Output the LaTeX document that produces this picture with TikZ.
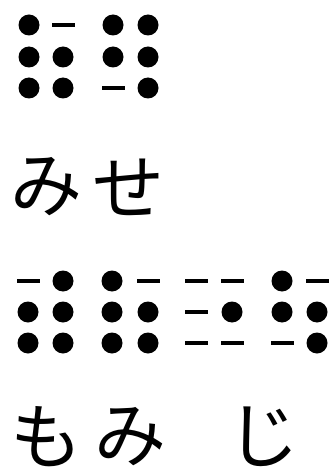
\documentclass[tikz,border=0pt]{standalone}
\usepackage{fontspec}
\newfontfamily\cjk{Noto Sans CJK JP}
\begin{document}
\begin{tikzpicture}[x=1pt,y=-1pt,
  bdot/.style={circle,fill=black,minimum size=21pt,inner sep=0pt},
  bdash/.style={rectangle,fill=black,minimum width=23pt,minimum height=4pt,inner sep=0pt},
  kana/.style={inner sep=0pt,font=\cjk\fontsize{72}{72}\selectfont}]
\useasboundingbox (0,0) rectangle (331,473);
% top braille: みせ
\foreach \x/\y/\t [count=\i] in {29/25/bdot,63/25/bdash,29/57/bdot,63/57/bdot,29/88/bdot,63/88/bdot,
  113/25/bdot,148/25/bdot,113/57/bdot,148/57/bdot,113/88/bdash,148/88/bdot}
  \node[\t] (a\i) at (\x,\y) {};
\node[kana] (mi1) at (46,187) {み};
\node[kana] (se) at (128,187) {せ};
% bottom braille: もみ じ
\foreach \x/\y/\t [count=\i] in {28/281/bdash,63/281/bdot,28/312/bdot,63/312/bdot,28/343/bdot,63/343/bdot,
  112/281/bdot,148/281/bdash,112/312/bdot,148/312/bdot,112/343/bdot,148/343/bdot,
  196/281/bdash,232/281/bdash,196/312/bdash,232/312/bdot,196/343/bdash,232/343/bdash,
  282/281/bdot,317/281/bdash,282/312/bdot,317/312/bdot,282/343/bdash,317/343/bdot}
  \node[\t] (b\i) at (\x,\y) {};
\node[kana] (mo) at (46,437) {も};
\node[kana] (mi2) at (130,437) {み};
\node[kana] (ji) at (263,437) {じ};
\end{tikzpicture}
\end{document}
